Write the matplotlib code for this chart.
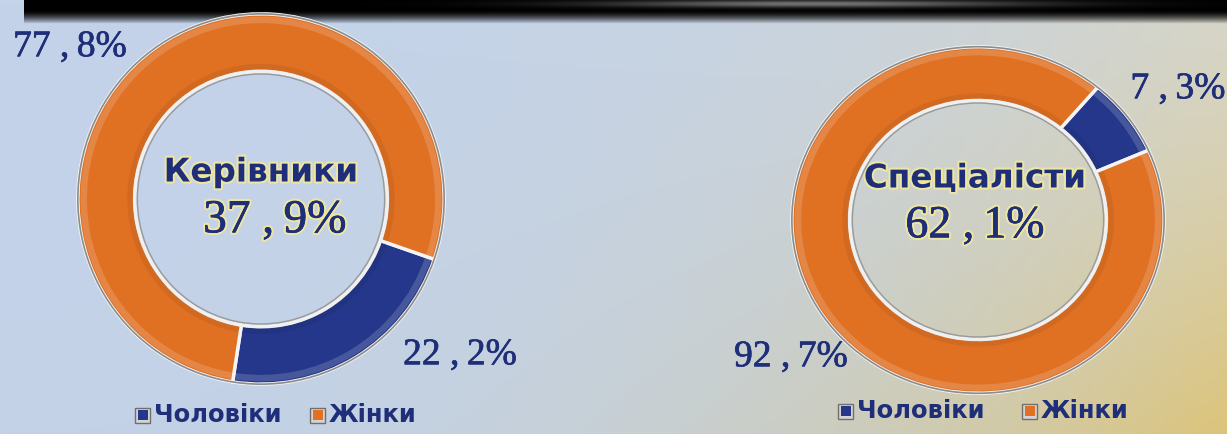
"""
Two donut charts: share of men / women among managers and specialists.
"""

import numpy as np
import matplotlib
matplotlib.use("Agg")
import matplotlib.pyplot as plt
import matplotlib.patheffects as pe
from matplotlib.colors import to_rgb
from matplotlib.patches import Rectangle, Circle, Wedge

# Data
series = ["Чоловіки", "Жінки"]
colors = ["#24378a", "#e07022"]
groups = ["Керівники", "Спеціалісти"]
group_share = ["37 ,\u20099%", "62 ,\u20091%"]
managers = [22.2, 77.8]
specialists = [7.3, 92.7]

W, H = 1227, 434
NAVY = "#1f2e78"

fig = plt.figure(figsize=(W / 100, H / 100), dpi=100)

# background: full-figure axes in pixel coordinates
bg = fig.add_axes([0, 0, 1, 1])
bg.set_xlim(0, W)
bg.set_ylim(H, 0)
bg.axis("off")

xs = np.linspace(0, 1, 300)
ys = np.linspace(0, 1, 120)
X, Y = np.meshgrid(xs, ys)
tl, tr = np.array(to_rgb("#c3d3ea")), np.array(to_rgb("#d6d5c8"))
bl, br = np.array(to_rgb("#c3d2e7")), np.array(to_rgb("#dcc47a"))
tx = (X ** 2.6)[..., None]
ty = (Y ** 1.3)[..., None]
grad = (1 - ty) * ((1 - tx) * tl + tx * tr) + ty * ((1 - tx) * bl + tx * br)
bg.imshow(grad, extent=(0, W, H, 0), aspect="auto", zorder=0)

# dark banner at the top
bw = np.linspace(0, 1, 40)[:, None] * np.ones((1, 200))
band = np.zeros((40, 200, 4))
band[..., 3] = np.clip(1.0 - ((bw - 0.45) / 0.55).clip(0) ** 1.5, 0, 1)
hl = np.exp(-((np.linspace(0, 1, 200) - 0.66) / 0.18) ** 2)[None, :]
band[..., 0] = band[..., 1] = band[..., 2] = 0.45 * hl * np.exp(-((bw - 0.15) / 0.15) ** 2)
bg.imshow(band, extent=(24, W, 24, 0), aspect="auto", zorder=1)


def donut(values, box, start):
    left, top, right, bottom = box
    ax = fig.add_axes([left / W, (H - bottom) / H, (right - left) / W, (bottom - top) / H])
    wedges, _ = ax.pie(values, colors=colors, startangle=start, counterclock=False,
                       wedgeprops=dict(width=0.31, edgecolor="#f4f4f4", linewidth=2.5))
    # simple bevel: light band at the outer edge, soft dark band at the inner edge
    for w in wedges:
        t1, t2 = w.theta1, w.theta2
        ax.add_patch(Wedge((0, 0), 0.985, t1 + 0.6, t2 - 0.6, width=0.035,
                           facecolor="white", alpha=0.16, lw=0))
        ax.add_patch(Wedge((0, 0), 0.73, t1 + 0.6, t2 - 0.6, width=0.035,
                           facecolor="black", alpha=0.06, lw=0))
    ax.add_patch(Circle((0, 0), 1.0, fill=False, edgecolor="#8c8c8c", lw=1.2))
    ax.add_patch(Circle((0, 0), 0.69, fill=False, edgecolor="#f0f0f0", lw=2.0))
    ax.add_patch(Circle((0, 0), 0.675, fill=False, edgecolor="#9a9a9a", lw=1.0))
    ax.set_aspect("auto")
    ax.set_xlim(-1.01, 1.01)
    ax.set_ylim(-1.01, 1.01)
    ax.axis("off")
    return ax


donut(managers, (76, 12, 446, 386), -19)
donut(specialists, (790, 45, 1166, 395), 50)

glow = [pe.withStroke(linewidth=3.0, foreground="#ece6a2")]
num_glow = [pe.withStroke(linewidth=3.5, foreground="#ece6a2"),
            pe.withStroke(linewidth=0.5, foreground=NAVY)]
thick = [pe.withStroke(linewidth=0.5, foreground=NAVY)]

# centre titles
bg.text(261, 172, groups[0], ha="center", va="center", fontsize=23.5,
        fontweight="bold", color=NAVY, path_effects=glow, zorder=5)
bg.text(275, 221, group_share[0], ha="center", va="center", fontsize=34,
        family="Liberation Serif", color=NAVY, path_effects=num_glow, zorder=5)
bg.text(975, 178, groups[1], ha="center", va="center", fontsize=23.5,
        fontweight="bold", color=NAVY, path_effects=glow, zorder=5)
bg.text(975, 226, group_share[1], ha="center", va="center", fontsize=33,
        family="Liberation Serif", color=NAVY, path_effects=num_glow, zorder=5)


def fmt(v):
    return f"{v:.1f}".replace(".", " ,\u2009") + "%"


# slice labels
pct = dict(ha="center", va="center", fontsize=27, family="Liberation Serif",
           color=NAVY, path_effects=thick, zorder=5)
bg.text(70, 47, fmt(managers[1]), **pct)
bg.text(460, 355, fmt(managers[0]), **pct)
bg.text(1178, 89, fmt(specialists[0]), **pct)
bg.text(791, 357, fmt(specialists[1]), **pct)


def legend(x0, y0, x1):
    for x, name, col in [(x0, series[0], colors[0]), (x1, series[1], colors[1])]:
        bg.add_patch(Rectangle((x, y0 - 7.5), 15, 15, facecolor="#d4d4d4",
                               edgecolor="#6f6f6f", lw=1, zorder=5))
        bg.add_patch(Rectangle((x + 2.5, y0 - 5), 10, 10, facecolor=col,
                               edgecolor="none", zorder=6))
        bg.text(x + 19, y0, name, ha="left", va="center", fontsize=17.5,
                fontweight="bold", color=NAVY, zorder=6)


legend(135, 415, 310)
legend(838, 411, 1022)

fig.savefig("out.png", dpi=100)
